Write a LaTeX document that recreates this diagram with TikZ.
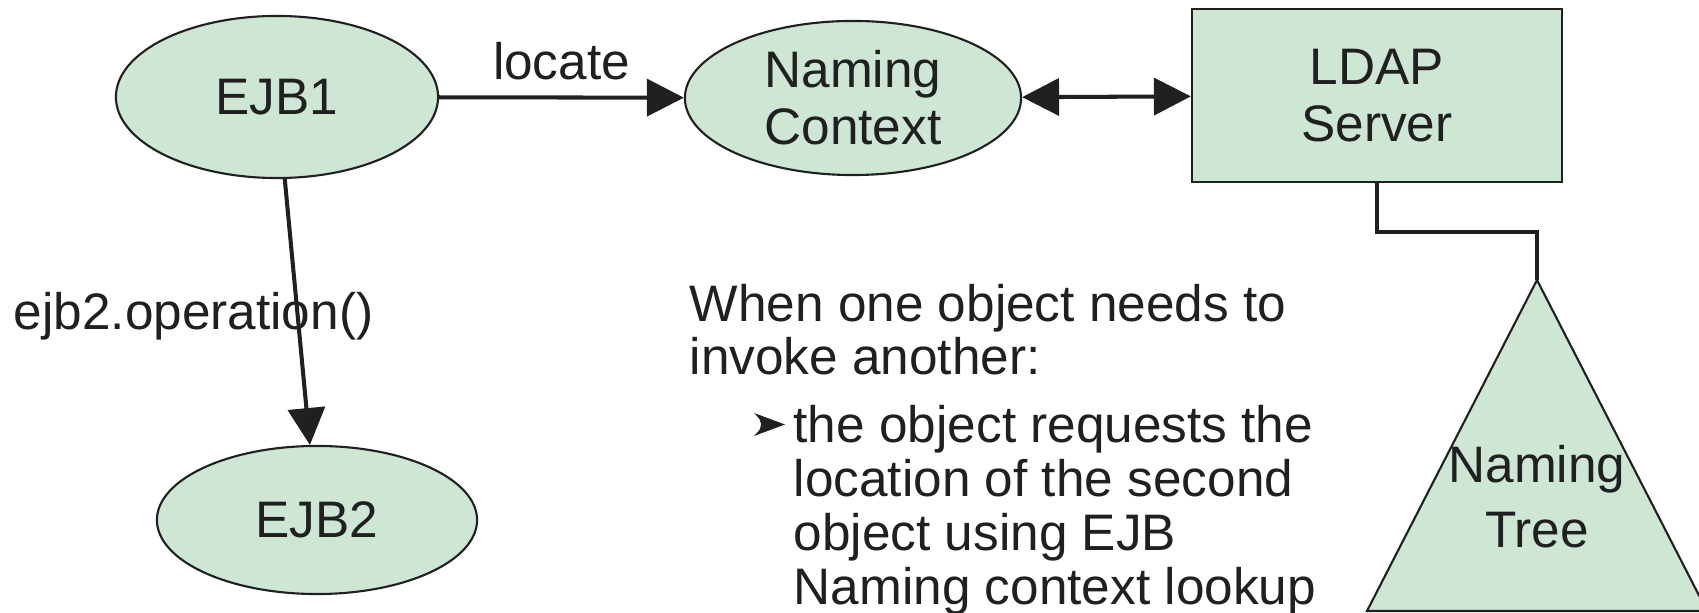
\documentclass[tikz,border=0pt]{standalone}
\usepackage{fontspec}
\setmainfont{Liberation Sans}
\usetikzlibrary{shapes.geometric,arrows.meta}
\definecolor{nodefill}{RGB}{206,230,212}
\definecolor{ink}{RGB}{32,32,32}
\tikzset{bigtip/.tip={Triangle[length=10.5pt,width=10.5pt]}}

\begin{document}
\begin{tikzpicture}[x=0.01cm,y=-0.01cm,
  lbl/.style={font=\fontsize{14.6}{16.2}\selectfont, text=ink},
  oval/.style={ellipse, draw=ink, fill=nodefill, line width=0.6pt, inner sep=0pt, align=center, lbl},
  box/.style={rectangle, draw=ink, fill=nodefill, line width=0.6pt, inner sep=0pt, align=center, lbl},
  link/.style={draw=ink, line width=1.15pt},
  body/.style={lbl, anchor=base west, inner sep=0pt}]
\useasboundingbox (0,0) rectangle (1699,613);

% components
\node[oval, minimum width=3.22cm, minimum height=1.62cm] (ejb1) at (277,97) {EJB1};
\node[oval, minimum width=3.36cm, minimum height=1.54cm] (ctx) at (853,98) {Naming\\Context};
\node[box, minimum width=3.70cm, minimum height=1.73cm] (ldap) at (1377,95.5) {LDAP\\Server};
\node[oval, minimum width=3.20cm, minimum height=1.48cm] (ejb2) at (317,520) {EJB2};

% naming tree
\coordinate (apex) at (1537,280);
\draw[draw=ink, fill=nodefill, line width=0.6pt] (apex) -- (1707,611) -- (1367,611) -- cycle;
\node[lbl, align=center, font=\fontsize{14.6}{18.5}\selectfont, inner sep=0pt] (treelbl) at (1537,497) {Naming\\Tree};

% connectors
\draw[link, -bigtip] (ejb1) -- (ctx)
  node[lbl, pos=0.5, anchor=base, yshift=0.18cm, inner sep=0pt] (locatelbl) {locate};
\draw[link, bigtip-bigtip] (ctx) -- (ldap);
\draw[link, -bigtip] (ejb1) -- (ejb2);
\node[body] (oplbl) at (13,330) {ejb2.operation()};
\draw[link] (ldap.south) -- (ldap.south |- 0,232) -| (apex);

% explanatory text
\node[body] (l1) at (689,322) {When one object needs to};
\node[body] (l2) at (689,375) {invoke another:};
% arrowhead bullet
\fill[ink] (785,424.5) -- (754,413) .. controls (760,419) .. (761,424.5)
  .. controls (760,430) .. (754,436) -- cycle;
\node[body] (l3) at (793,443) {the object requests the};
\node[body] (l4) at (793,497) {location of the second};
\node[body] (l5) at (793,551) {object using EJB};
\node[body] (l6) at (793,605) {Naming context lookup};
\end{tikzpicture}
\end{document}
